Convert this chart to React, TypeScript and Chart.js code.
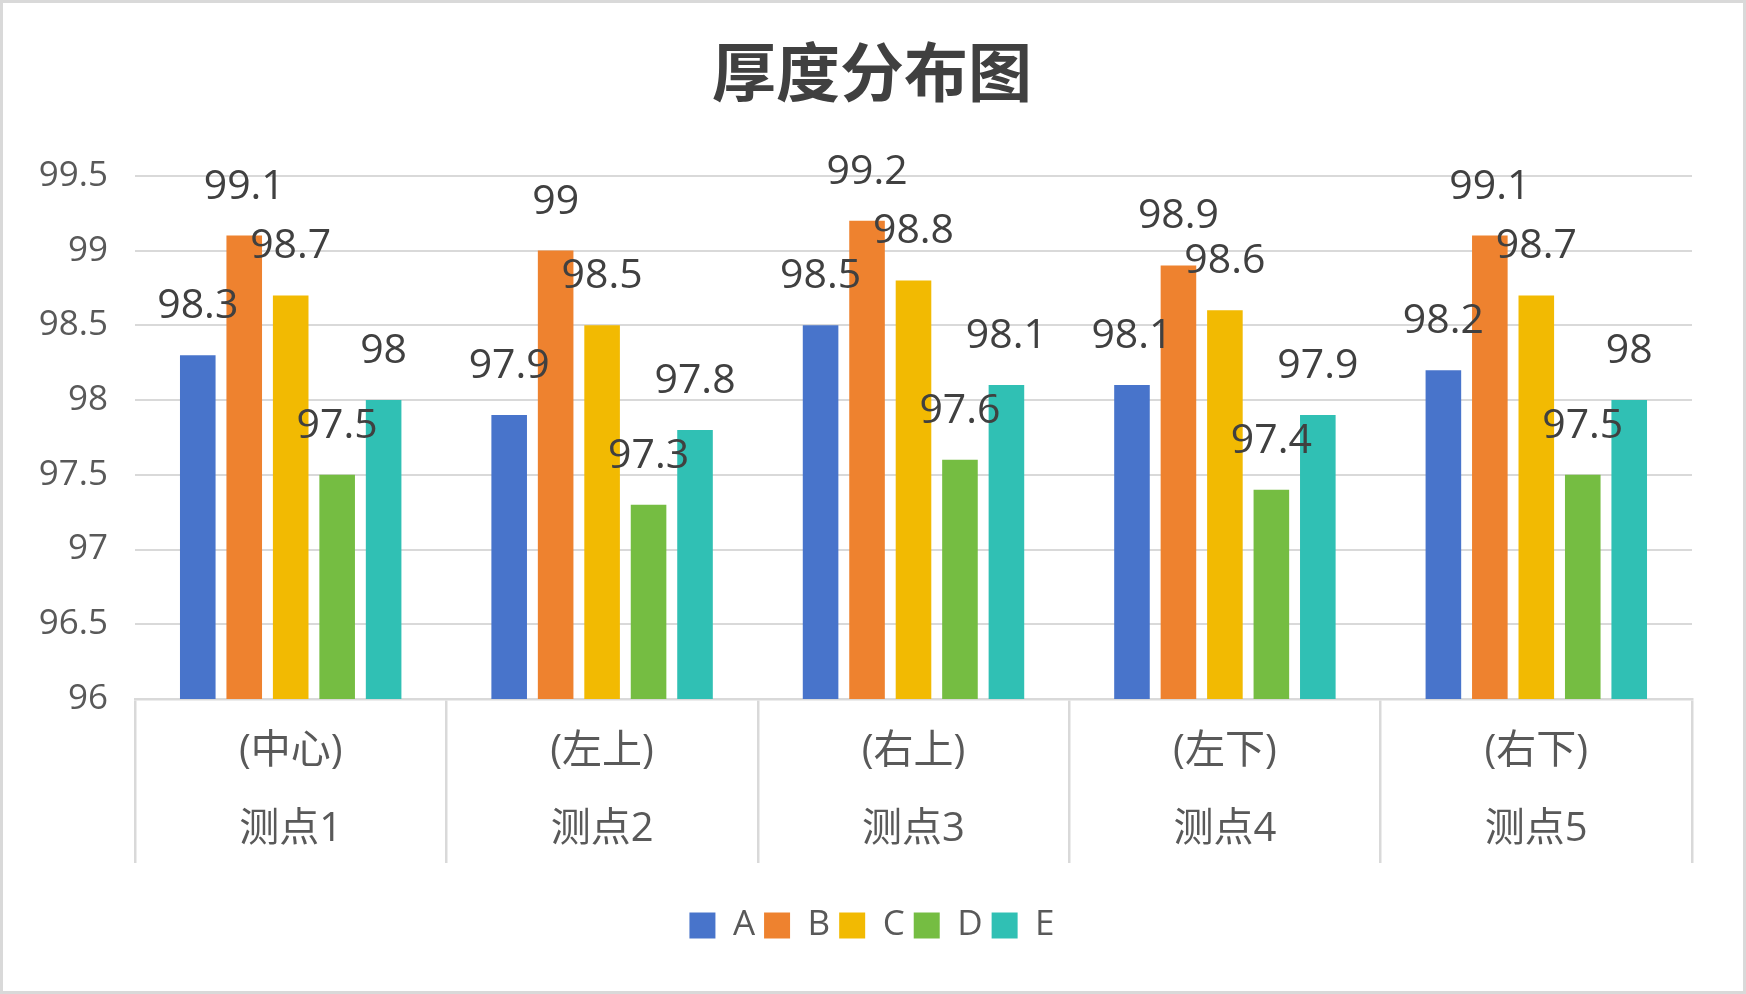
import { useEffect, useRef } from 'react';
import { Chart, registerables } from 'chart.js';

Chart.register(...registerables);

// Measurement points: inner label (position) and outer label (point number)
const categories = [
  ['(中心)', '测点1'],
  ['(左上)', '测点2'],
  ['(右上)', '测点3'],
  ['(左下)', '测点4'],
  ['(右下)', '测点5'],
];

const seriesNames = ['A', 'B', 'C', 'D', 'E'];
const seriesA = [98.3, 97.9, 98.5, 98.1, 98.2];
const seriesB = [99.1, 99.0, 99.2, 98.9, 99.1];
const seriesC = [98.7, 98.5, 98.8, 98.6, 98.7];
const seriesD = [97.5, 97.3, 97.6, 97.4, 97.5];
const seriesE = [98.0, 97.8, 98.1, 97.9, 98.0];
const seriesColors = ['#4874CB', '#EE822F', '#F2BA02', '#75BD42', '#30C0B4'];

const yMin = 96;
const yMax = 99.5;
const yStep = 0.5;

const titleText = '厚度分布图';

const FONT = "'Open Sans', 'Noto Sans CJK SC', sans-serif";
const CJK_FONT = "'Noto Sans CJK SC', 'Open Sans', sans-serif";

const fmt = (v: number) => String(Math.round(v * 10) / 10);

// Draws each bar's value above it
const valueLabels = {
  id: 'valueLabels',
  afterDatasetsDraw(chart: any) {
    const { ctx } = chart;
    ctx.save();
    ctx.font = `41px ${FONT}`;
    ctx.fillStyle = '#404040';
    ctx.textAlign = 'center';
    ctx.textBaseline = 'alphabetic';
    chart.data.datasets.forEach((ds: any, di: number) => {
      const meta = chart.getDatasetMeta(di);
      meta.data.forEach((bar: any, i: number) => {
        ctx.fillText(fmt(ds.data[i]), bar.x, bar.y - 37);
      });
    });
    ctx.restore();
  },
};

export default function App() {
  const canvasRef = useRef<HTMLCanvasElement | null>(null);

  useEffect(() => {
    document.body.style.margin = '0';
    const canvas = canvasRef.current;
    if (!canvas) return;
    const values = [seriesA, seriesB, seriesC, seriesD, seriesE];
    const chart = new Chart(canvas, {
      type: 'bar',
      data: {
        labels: categories,
        datasets: seriesNames.map((name, i) => ({
          label: name,
          data: values[i],
          backgroundColor: seriesColors[i],
          borderWidth: 0,
          categoryPercentage: 0.746,
          barPercentage: 0.766,
        })),
      },
      options: {
        responsive: false,
        animation: false,
        layout: { padding: { left: 32, right: 34, top: 0, bottom: 38 } },
        plugins: {
          title: {
            display: true,
            text: titleText,
            color: '#404040',
            font: { size: 64, weight: 'bold', family: CJK_FONT, lineHeight: 1.2 },
            padding: { top: 30, bottom: 66 },
          },
          legend: {
            display: true,
            position: 'bottom',
            labels: {
              boxWidth: 26,
              boxHeight: 26,
              padding: 9,
              color: '#595959',
              font: { size: 35, family: FONT },
            },
          },
          tooltip: { enabled: false },
        },
        scales: {
          x: {
            grid: {
              display: true,
              drawOnChartArea: false,
              drawTicks: true,
              tickLength: 164,
              color: '#d9d9d9',
              lineWidth: 2.5,
              offset: true,
            },
            border: { display: true, color: '#d9d9d9', width: 2.5 },
            ticks: {
              color: '#595959',
              font: { size: 40, family: FONT, lineHeight: 78 / 40 },
              padding: -150,
              maxRotation: 0,
              autoSkip: false,
            },
            afterFit: (s: any) => {
              s.height = 200;
            },
          },
          y: {
            min: yMin,
            max: yMax,
            ticks: {
              stepSize: yStep,
              color: '#595959',
              font: { size: 35, family: FONT },
              padding: 27,
              callback: (v: any) => fmt(Number(v)),
            },
            grid: { color: '#d9d9d9', lineWidth: 2, drawTicks: false },
            border: { display: false },
            afterFit: (s: any) => {
              s.width = 100;
            },
          },
          // empty right margin so the title and legend sit centred on the frame
          yRight: {
            position: 'right',
            display: true,
            grid: { display: false, drawTicks: false },
            border: { display: false },
            ticks: { display: false },
            afterFit: (s: any) => {
              s.width = 17;
            },
          },
        },
      },
      plugins: [valueLabels],
    });
    return () => chart.destroy();
  }, []);

  return (
    <div
      style={{
        width: 1746,
        height: 994,
        boxSizing: 'border-box',
        border: '3px solid #d9d9d9',
        background: '#ffffff',
      }}
    >
      <canvas ref={canvasRef} width={1740} height={988} style={{ display: 'block' }} />
    </div>
  );
}
